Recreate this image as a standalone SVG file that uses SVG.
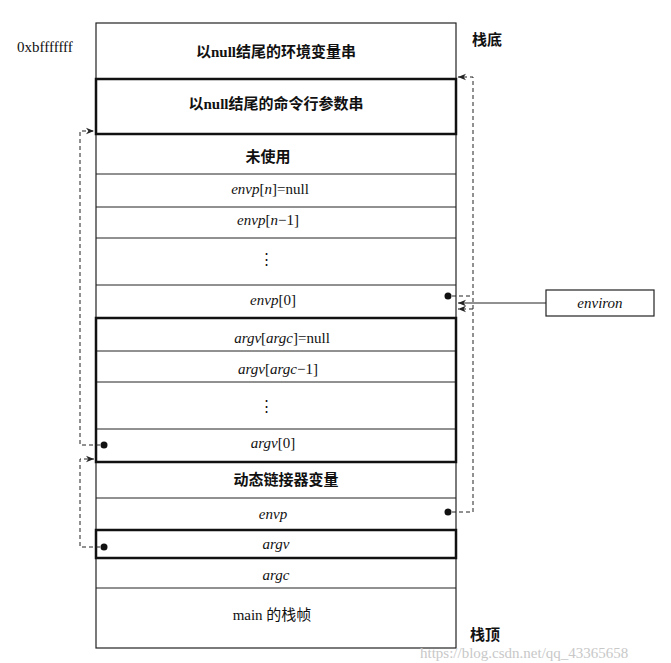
<svg xmlns="http://www.w3.org/2000/svg" width="671" height="663" viewBox="0 0 671 663">
<defs>
<style>
text{font-family:"Liberation Serif","Noto Sans CJK SC",serif;font-size:15px;fill:#111}
.c{text-anchor:middle}
.cell{fill:#fff;stroke:#222;stroke-width:1.2}
.thick{fill:none;stroke:#111;stroke-width:2.5}
.d{fill:none;stroke:#222;stroke-width:1;stroke-dasharray:4,3}
.s{fill:none;stroke:#222;stroke-width:1}
</style>
<marker id="ah" viewBox="0 0 10 10" refX="10" refY="5" markerWidth="8" markerHeight="8" orient="auto"><path d="M0,1 L10,5 L0,9 L3,5z" fill="#222"/></marker>
</defs>
<rect width="671" height="663" fill="#fff"/>
<g id="stack">
<rect class="cell" x="96" y="23" width="360" height="625"/>
<g class="s"><line x1="96" y1="174" x2="456" y2="174"/><line x1="96" y1="207" x2="456" y2="207"/><line x1="96" y1="238" x2="456" y2="238"/><line x1="96" y1="285" x2="456" y2="285"/><line x1="96" y1="351" x2="456" y2="351"/><line x1="96" y1="382" x2="456" y2="382"/><line x1="96" y1="429" x2="456" y2="429"/><line x1="96" y1="498" x2="456" y2="498"/><line x1="96" y1="588" x2="456" y2="588"/></g>
<rect class="thick" x="96" y="79" width="360" height="55"/>
<rect class="thick" x="96" y="318" width="360" height="144"/>
<rect class="thick" x="96" y="530" width="360" height="28"/>
</g>
<g id="labels">
<text class="c" x="276" y="57" font-weight="bold" font-size="16">以null结尾的环境变量串</text>
<text class="c" x="276" y="109" font-weight="bold" font-size="16">以null结尾的命令行参数串</text>
<text class="c" x="268" y="162" font-weight="bold" font-size="16">未使用</text>
<text class="c" x="270" y="194" font-size="16"><tspan font-style="italic">envp</tspan>[<tspan font-style="italic">n</tspan>]=null</text>
<text class="c" x="268" y="225" font-size="16"><tspan font-style="italic">envp</tspan>[<tspan font-style="italic">n</tspan>−1]</text>
<text class="c" x="266" y="264">⋮</text>
<text class="c" x="273" y="305" font-size="16"><tspan font-style="italic">envp</tspan>[0]</text>
<text class="c" x="282" y="343" font-size="16"><tspan font-style="italic">argv</tspan>[<tspan font-style="italic">argc</tspan>]=null</text>
<text class="c" x="278" y="374" font-size="16"><tspan font-style="italic">argv</tspan>[<tspan font-style="italic">argc</tspan>−1]</text>
<text class="c" x="266" y="411">⋮</text>
<text class="c" x="273" y="448" font-size="16"><tspan font-style="italic">argv</tspan>[0]</text>
<text class="c" x="286" y="485" font-weight="bold" font-size="16">动态链接器变量</text>
<text class="c" x="273" y="519" font-style="italic" font-size="16">envp</text>
<text class="c" x="276" y="549" font-style="italic" font-size="16">argv</text>
<text class="c" x="276" y="580" font-style="italic" font-size="16">argc</text>
<text class="c" x="272" y="620" font-family="Liberation Sans,Noto Sans CJK SC,sans-serif">main 的栈帧</text>
<text x="17" y="52" font-size="14">0xbfffffff</text>
<text x="472" y="45" font-weight="bold">栈底</text>
<text x="470" y="640" font-weight="bold">栈顶</text>
<text x="420" y="658" font-size="12" style="fill:#c8c8c8" font-family="Liberation Sans,sans-serif">https://blog.csdn.net/qq_43365658</text>
</g>
<g id="environ">
<rect x="546" y="290" width="108" height="26" fill="#fff" stroke="#222" stroke-width="1.2"/>
<text class="c" x="600" y="308" font-style="italic" font-size="16">environ</text>
</g>
<g id="connectors">
<circle cx="448" cy="296" r="3.5" fill="#111"/>
<circle cx="448" cy="512" r="3.5" fill="#111"/>
<circle cx="104" cy="445" r="3.5" fill="#111"/>
<circle cx="104" cy="547" r="3.5" fill="#111"/>
<path class="d" d="M452,512 H473 V77 H458" marker-end="url(#ah)"/>
<path class="d" d="M452,296 H473"/>
<path class="d" d="M473,309 H458" marker-end="url(#ah)"/>
<path class="s" d="M546,303 H458" marker-end="url(#ah)"/>
<path class="d" d="M100,445 H80 V131 H94" marker-end="url(#ah)"/>
<path class="d" d="M100,547 H80 V459 H94" marker-end="url(#ah)"/>
</g>
</svg>
